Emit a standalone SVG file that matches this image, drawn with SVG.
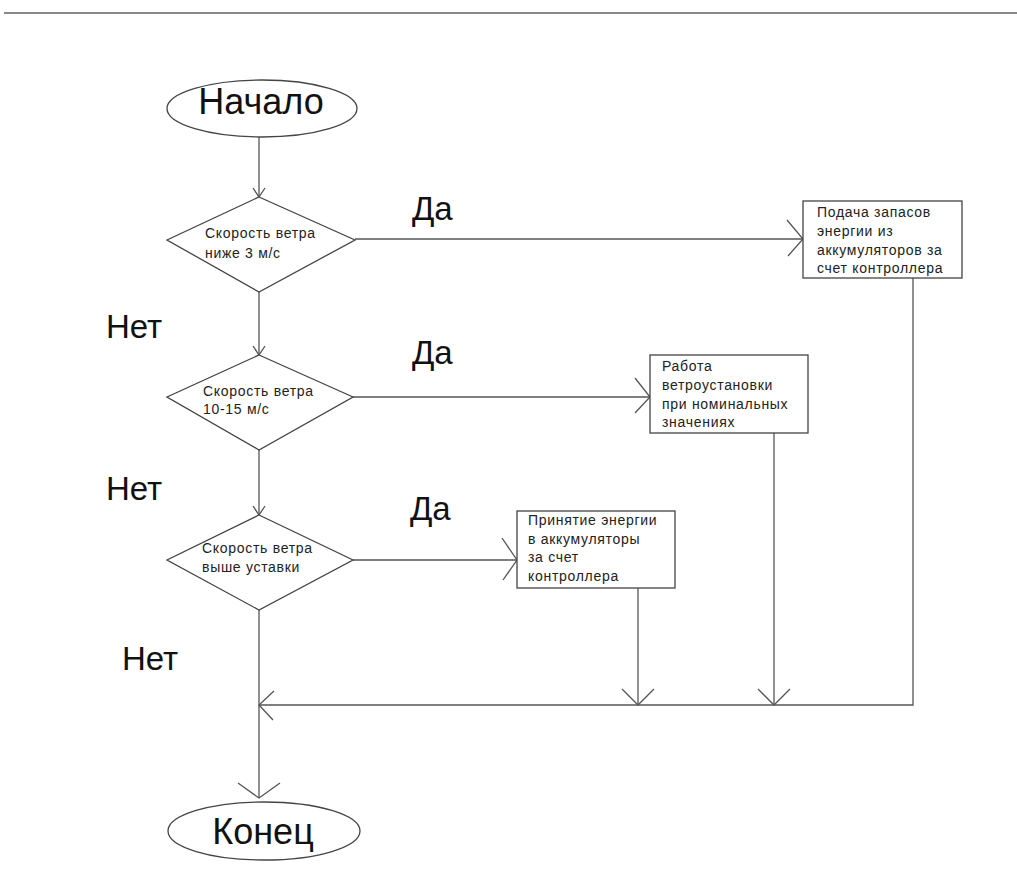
<svg xmlns="http://www.w3.org/2000/svg" width="1017" height="875" viewBox="0 0 1017 875">
<style>
.s{fill:#fff;stroke:#444;stroke-width:1.3}
.c{fill:none;stroke:#555;stroke-width:1.3}
.big{font-family:"Liberation Sans",Arial,sans-serif;font-size:36px;fill:#111}
.lbl{font-family:"Liberation Sans",Arial,sans-serif;font-size:33px;fill:#111}
.t{font-family:"Liberation Sans",Arial,sans-serif;font-size:14px;letter-spacing:0.7px;fill:#222}
</style>
<rect width="1017" height="875" fill="#fff"/>
<line x1="4" y1="13" x2="1017" y2="13" stroke="#888" stroke-width="2"/>
<g id="connectors">
<line class="c" x1="259" y1="137" x2="259" y2="197"/>
<polyline class="c" points="253,188 259,197 265,188"/>
<line class="c" x1="259" y1="292" x2="259" y2="355"/>
<polyline class="c" points="253,346 259,355 265,346"/>
<line class="c" x1="259" y1="450" x2="259" y2="515"/>
<polyline class="c" points="253,506 259,515 265,506"/>
<line class="c" x1="259" y1="610" x2="259" y2="798"/>
<polyline class="c" points="238,783 259,798 280,783"/>
<line class="c" x1="355" y1="239" x2="803" y2="239"/>
<polyline class="c" points="787,220 803,239 788,256"/>
<line class="c" x1="353" y1="397" x2="650" y2="397"/>
<polyline class="c" points="635,378 650,397 635,413"/>
<line class="c" x1="353" y1="560" x2="517" y2="560"/>
<polyline class="c" points="502,538 517,560 503,580"/>
<polyline class="c" points="913,278 913,705 259,705"/>
<polyline class="c" points="274,691 259,705 273,720"/>
<line class="c" x1="774" y1="433" x2="774" y2="705"/>
<polyline class="c" points="758,689 774,705 790,689"/>
<line class="c" x1="638" y1="588" x2="638" y2="705"/>
<polyline class="c" points="622,689 638,705 654,689"/>
<text class="lbl" x="412" y="220">Да</text>
<text class="lbl" x="412" y="364">Да</text>
<text class="lbl" x="410" y="520">Да</text>
<text class="lbl" x="106" y="338">Нет</text>
<text class="lbl" x="106" y="500">Нет</text>
<text class="lbl" x="122" y="670">Нет</text>
</g>
<g id="start">
<ellipse class="s" cx="262" cy="108.5" rx="95" ry="28.5"/>
<text class="big" x="261" y="114" text-anchor="middle">Начало</text>
</g>
<g id="dec1">
<polygon class="s" points="259,197 355,240 259,292 167,240"/>
<text class="t" x="205" y="238">Скорость ветра</text>
<text class="t" x="205" y="258">ниже 3 м/с</text>
</g>
<g id="dec2">
<polygon class="s" points="259,355 353,397 259,450 167,397"/>
<text class="t" x="203" y="396">Скорость ветра</text>
<text class="t" x="203" y="414">10-15 м/с</text>
</g>
<g id="dec3">
<polygon class="s" points="259,515 353,560 259,610 167,560"/>
<text class="t" x="202" y="553">Скорость ветра</text>
<text class="t" x="202" y="572">выше уставки</text>
</g>
<g id="box1">
<rect class="s" x="803" y="201" width="159" height="77"/>
<text class="t" x="817" y="217">Подача запасов</text>
<text class="t" x="817" y="236">энергии из</text>
<text class="t" x="817" y="254.5">аккумуляторов за</text>
<text class="t" x="817" y="273">счет контроллера</text>
</g>
<g id="box2">
<rect class="s" x="650" y="355" width="158" height="78"/>
<text class="t" x="662" y="371">Работа</text>
<text class="t" x="662" y="390">ветроустановки</text>
<text class="t" x="662" y="408.5">при номинальных</text>
<text class="t" x="662" y="427">значениях</text>
</g>
<g id="box3">
<rect class="s" x="517" y="511" width="158" height="77"/>
<text class="t" x="528" y="525">Принятие энергии</text>
<text class="t" x="528" y="543.5">в аккумуляторы</text>
<text class="t" x="528" y="562">за счет</text>
<text class="t" x="528" y="581">контроллера</text>
</g>
<g id="end">
<ellipse class="s" cx="264" cy="831" rx="96" ry="29"/>
<text class="big" x="263" y="844" text-anchor="middle">Конец</text>
</g>
</svg>
